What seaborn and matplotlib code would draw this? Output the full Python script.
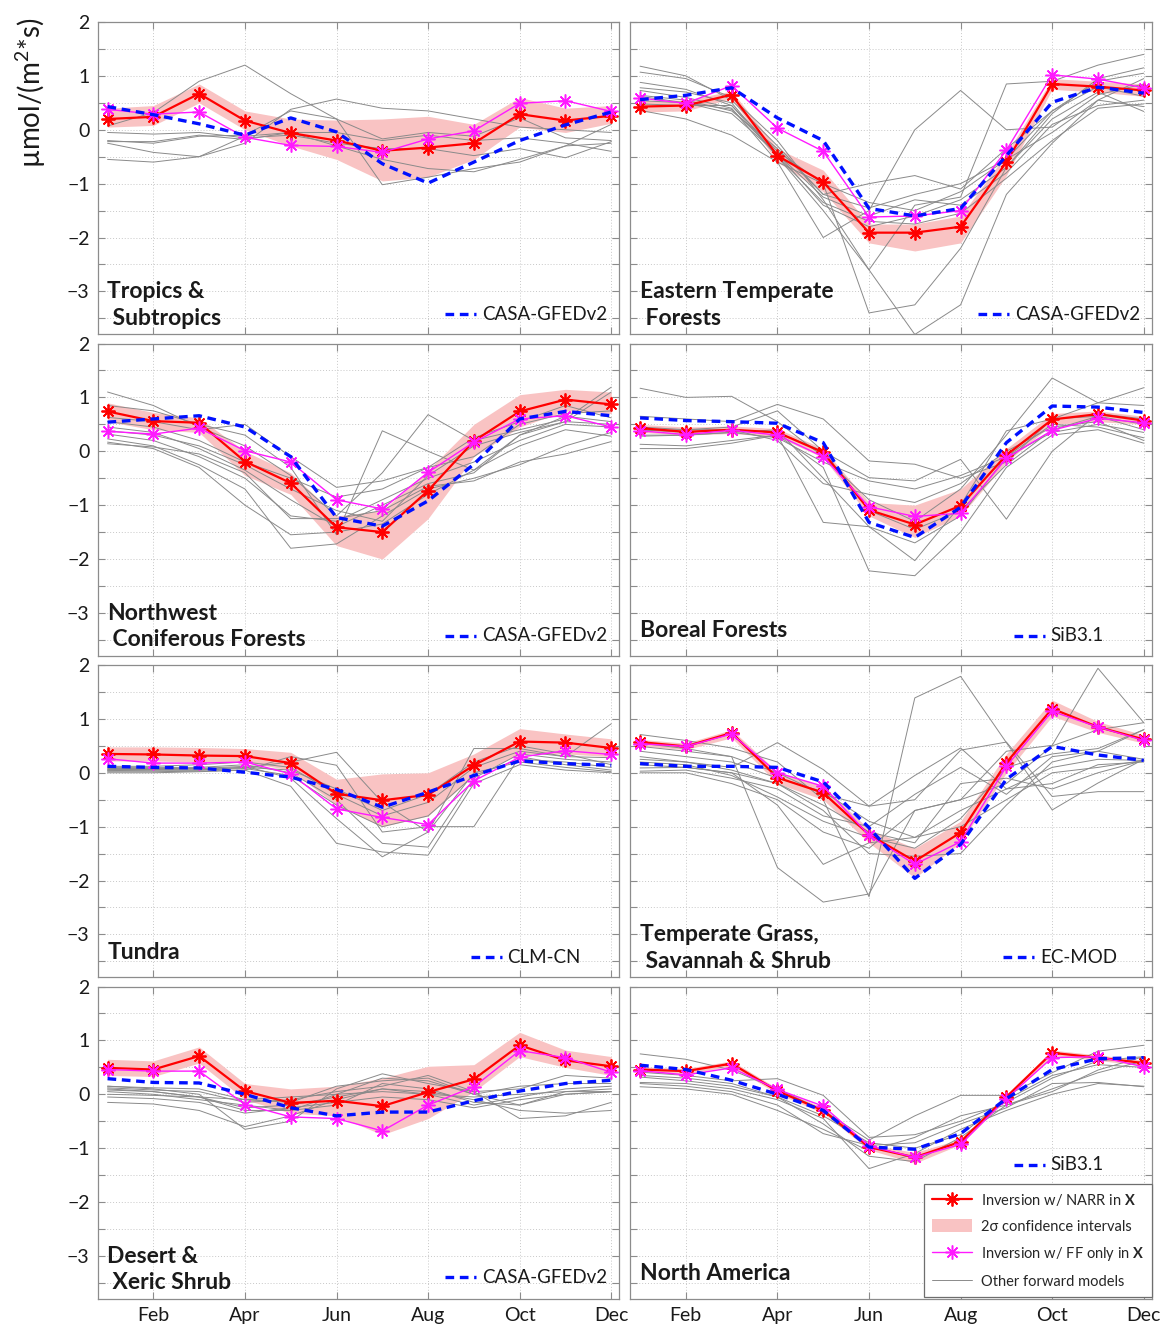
import numpy as np
import pandas as pd
import matplotlib
matplotlib.use("Agg")
import matplotlib.pyplot as plt
from matplotlib.lines import Line2D
from matplotlib.patches import Patch
import seaborn as sns

# ---------------------------------------------------------------- data
months = list(range(1, 13))
month_ticks = [2, 4, 6, 8, 10, 12]
month_labels = ["Feb", "Apr", "Jun", "Aug", "Oct", "Dec"]

# Tropics & Subtropics
tropics_narr = [0.20, 0.24, 0.67, 0.17, -0.06, -0.20, -0.39, -0.33, -0.25, 0.29, 0.17, 0.26]
tropics_ff = [0.38, 0.29, 0.33, -0.14, -0.29, -0.31, -0.42, -0.17, -0.02, 0.49, 0.54, 0.34]
tropics_ref = [0.43, 0.28, 0.11, -0.10, 0.22, -0.04, -0.63, -0.99, -0.60, -0.20, 0.09, 0.33]
tropics_hi = [0.40, 0.45, 0.85, 0.35, 0.20, 0.18, 0.20, 0.25, 0.10, 0.60, 0.40, 0.45]
tropics_lo = [0.05, 0.08, 0.50, 0.00, -0.30, -0.55, -0.95, -0.88, -0.55, 0.05, -0.05, 0.12]
tropics_others = [
    [0.07, 0.32, 0.90, 1.20, 0.67, 0.20, -1.02, -0.88, -0.72, -0.60, -0.30, 0.10],
    [-0.55, -0.60, -0.50, -0.25, 0.38, 0.57, 0.40, 0.35, 0.20, 0.05, 0.00, -0.05],
    [-0.20, -0.25, -0.12, -0.10, 0.35, 0.20, -0.17, -0.05, -0.12, 0.22, -0.15, -0.20],
    [-0.25, -0.42, -0.50, -0.12, -0.05, -0.30, -0.55, -0.72, -0.78, -0.55, -0.30, -0.25],
    [-0.05, -0.08, -0.05, -0.15, -0.10, -0.25, -0.35, -0.35, -0.48, -0.35, -0.52, -0.22],
    [-0.22, -0.22, -0.10, -0.18, -0.05, -0.05, -0.20, -0.10, -0.20, -0.15, -0.25, -0.40],
]

# Eastern Temperate Forests
eastern_narr = [0.43, 0.45, 0.65, -0.48, -0.97, -1.91, -1.91, -1.80, -0.60, 0.85, 0.80, 0.73]
eastern_ff = [0.59, 0.49, 0.82, 0.03, -0.40, -1.62, -1.60, -1.50, -0.38, 1.02, 0.94, 0.78]
eastern_ref = [0.56, 0.64, 0.78, 0.22, -0.20, -1.46, -1.60, -1.46, -0.48, 0.51, 0.79, 0.68]
eastern_hi = [0.55, 0.55, 0.72, -0.35, -0.75, -1.75, -1.75, -1.60, -0.45, 0.95, 0.90, 0.85]
eastern_lo = [0.33, 0.35, 0.58, -0.60, -1.15, -2.10, -2.25, -2.10, -0.85, 0.75, 0.70, 0.62]
eastern_others = [
    [1.18, 1.00, 0.55, -0.30, -1.20, -1.00, -0.85, -1.10, -0.35, 0.35, 0.90, 1.05],
    [1.07, 0.95, 0.60, -0.20, -1.30, -2.60, -1.40, -1.25, 0.85, 0.90, 1.20, 1.40],
    [0.88, 0.75, 0.45, -0.40, -1.00, -3.40, -3.25, -2.20, -0.70, 0.30, 0.95, 1.15],
    [0.78, 0.70, 0.50, -0.50, -1.50, -2.60, -3.80, -3.25, -1.20, -0.25, 0.55, 0.95],
    [0.73, 0.60, 0.40, -0.60, -2.00, -1.50, 0.00, 0.73, 0.00, 0.05, 0.65, 0.85],
    [0.64, 0.55, 0.35, -0.35, -1.20, -1.45, -1.20, -1.00, -0.55, 0.35, 0.80, 0.62],
    [0.54, 0.50, 0.30, -0.45, -1.25, -1.60, -1.30, -1.40, -0.80, 0.10, 0.45, 0.55],
    [0.48, 0.45, 0.45, -0.50, -1.35, -1.70, -1.75, -1.55, -0.90, -0.20, 0.40, 0.48],
    [0.36, 0.20, -0.10, -0.60, -1.00, -1.35, -1.50, -1.15, -0.55, -0.05, 0.55, 0.43],
    [0.62, 0.50, 0.38, -0.45, -1.40, -1.80, -1.60, -1.30, -0.70, 0.20, 0.70, 0.34],
]

# Northwest Coniferous Forests
northwest_narr = [0.74, 0.56, 0.53, -0.19, -0.59, -1.41, -1.50, -0.73, 0.19, 0.74, 0.96, 0.87]
northwest_ff = [0.37, 0.32, 0.43, 0.01, -0.20, -0.90, -1.07, -0.39, 0.17, 0.60, 0.66, 0.45]
northwest_ref = [0.54, 0.60, 0.66, 0.45, -0.10, -1.23, -1.39, -0.92, -0.24, 0.60, 0.74, 0.66]
northwest_hi = [0.90, 0.72, 0.62, 0.00, -0.40, -1.20, -1.10, -0.35, 0.50, 1.05, 1.15, 1.10]
northwest_lo = [0.55, 0.40, 0.35, -0.45, -0.80, -1.75, -2.00, -1.25, -0.10, 0.45, 0.75, 0.70]
northwest_others = [
    [1.10, 0.85, 0.45, 0.10, -0.45, -1.20, -0.40, 0.68, 0.20, 0.40, 0.60, 1.19],
    [0.85, 0.75, 0.50, 0.30, -0.30, -1.55, 0.38, 0.00, -0.35, 0.30, 0.55, 1.10],
    [0.63, 0.55, 0.40, 0.50, -0.10, -0.67, -0.55, -0.30, -0.10, 0.50, 0.70, 0.75],
    [0.45, 0.35, 0.05, -0.35, -0.90, -1.40, -1.00, -0.60, -0.40, 0.30, 0.65, 0.55],
    [0.32, 0.20, -0.10, -0.50, -1.20, -1.30, -0.90, -0.50, -0.20, 0.20, 0.50, 0.45],
    [0.23, 0.10, -0.25, -0.70, -1.80, -1.72, -1.20, -0.70, -0.50, -0.25, 0.10, 0.35],
    [0.17, 0.05, -0.30, -1.00, -1.55, -1.50, -1.35, -0.80, -0.35, 0.10, 0.40, 0.28],
    [0.14, 0.08, -0.05, -0.40, -1.25, -1.25, -1.10, -0.65, -0.55, -0.20, -0.05, 0.18],
    [0.38, 0.30, 0.10, -0.25, -0.70, -1.10, -1.30, -0.45, 0.10, 0.35, 0.55, 0.50],
    [0.55, 0.45, 0.20, -0.20, -0.50, -0.85, -0.70, -0.30, 0.25, 0.55, 0.85, 0.62],
]

# Boreal Forests
boreal_narr = [0.43, 0.36, 0.40, 0.35, -0.02, -1.09, -1.36, -1.01, -0.07, 0.59, 0.69, 0.57]
boreal_ff = [0.38, 0.31, 0.39, 0.30, -0.10, -1.03, -1.21, -1.15, -0.13, 0.39, 0.61, 0.53]
boreal_ref = [0.62, 0.57, 0.55, 0.52, 0.16, -1.32, -1.60, -1.04, 0.16, 0.84, 0.82, 0.72]
boreal_hi = [0.50, 0.45, 0.47, 0.42, 0.05, -0.95, -1.00, -0.70, 0.05, 0.70, 0.75, 0.65]
boreal_lo = [0.35, 0.30, 0.33, 0.27, -0.12, -1.20, -1.60, -1.20, -0.20, 0.50, 0.55, 0.50]
boreal_others = [
    [1.17, 1.00, 1.02, 0.55, -0.10, -0.90, -1.30, -0.70, 0.30, 1.36, 0.90, 1.18],
    [0.65, 0.60, 0.55, 0.87, 0.60, -0.18, -0.24, -0.50, -0.20, 0.60, 0.90, 0.85],
    [0.38, 0.40, 0.45, 0.75, 0.00, -0.49, -0.55, -0.15, -1.26, 0.00, 0.70, 0.60],
    [0.28, 0.30, 0.35, 0.40, -0.50, -1.40, -2.03, -1.00, 0.38, 0.60, 0.65, 0.40],
    [0.13, 0.10, 0.20, 0.30, -1.32, -1.40, -1.70, -1.20, -0.10, 0.50, 0.45, 0.25],
    [0.05, 0.05, 0.15, 0.30, -0.30, -2.22, -2.31, -1.50, -0.30, 0.30, 0.40, 0.15],
    [0.40, 0.35, 0.40, 0.20, -0.60, -0.80, -0.95, -0.60, 0.00, 0.45, 0.55, 0.20],
    [0.30, 0.30, 0.35, 0.25, -0.20, -0.55, -0.70, -0.45, -0.10, 0.35, 0.50, 0.35],
    [0.45, 0.40, 0.40, 0.35, 0.00, -1.10, -1.45, -1.10, -0.25, 0.40, 0.65, 0.50],
]

# Tundra
tundra_narr = [0.35, 0.34, 0.32, 0.31, 0.18, -0.39, -0.51, -0.41, 0.14, 0.58, 0.56, 0.46]
tundra_ff = [0.26, 0.18, 0.18, 0.20, -0.02, -0.67, -0.83, -0.96, -0.15, 0.29, 0.41, 0.34]
tundra_ref = [0.12, 0.10, 0.09, 0.01, -0.08, -0.31, -0.64, -0.36, -0.05, 0.22, 0.17, 0.14]
tundra_hi = [0.48, 0.48, 0.47, 0.45, 0.38, -0.12, -0.02, 0.00, 0.35, 0.82, 0.72, 0.63]
tundra_lo = [0.22, 0.22, 0.20, 0.20, 0.05, -0.60, -1.00, -0.80, -0.05, 0.35, 0.35, 0.30]
tundra_others = [
    [0.05, 0.05, 0.05, 0.10, 0.20, 0.38, -0.55, -1.10, 0.45, 0.45, 0.30, 0.91],
    [0.02, 0.02, 0.03, 0.05, 0.30, 0.14, -1.10, -1.00, -1.00, 0.30, 0.15, 0.05],
    [0.08, 0.08, 0.08, 0.12, -0.10, -0.85, -1.56, -1.10, 0.00, 0.20, 0.10, 0.02],
    [0.00, 0.00, 0.02, 0.05, -0.25, -1.31, -1.47, -1.53, -0.20, 0.15, 0.05, 0.00],
    [0.10, 0.10, 0.10, 0.15, 0.00, -0.50, -1.31, -1.38, -0.10, 0.35, 0.25, 0.20],
    [0.12, 0.12, 0.15, 0.20, 0.10, -0.40, -0.80, -0.55, 0.10, 0.40, 0.30, 0.28],
    [0.04, 0.05, 0.05, 0.08, -0.05, -0.60, -1.00, -0.80, -0.05, 0.25, 0.20, 0.10],
    [0.06, 0.06, 0.07, 0.10, 0.05, -0.30, -0.70, -0.40, 0.20, 0.50, 0.35, 0.15],
]

# Temperate Grass, Savannah & Shrub
grass_narr = [0.57, 0.49, 0.74, -0.09, -0.37, -1.15, -1.64, -1.11, 0.19, 1.19, 0.85, 0.62]
grass_ff = [0.54, 0.49, 0.72, 0.00, -0.25, -1.16, -1.70, -1.28, 0.12, 1.14, 0.85, 0.60]
grass_ref = [0.17, 0.12, 0.12, 0.10, -0.17, -1.02, -1.96, -1.33, -0.12, 0.49, 0.33, 0.23]
grass_hi = [0.62, 0.55, 0.80, 0.02, -0.25, -1.05, -1.40, -0.90, 0.35, 1.35, 0.95, 0.70]
grass_lo = [0.50, 0.43, 0.65, -0.20, -0.50, -1.30, -1.95, -1.30, 0.00, 1.05, 0.75, 0.55]
grass_others = [
    [0.71, 0.60, 0.46, 0.20, -0.50, -2.30, 1.39, 1.79, 0.56, -0.69, -0.19, 0.25],
    [0.49, 0.40, 0.30, -1.76, -2.40, -2.25, -0.70, -0.50, 0.40, 0.51, 1.94, 0.93],
    [0.25, 0.20, 0.10, 0.56, 0.06, -0.62, -0.50, 0.42, 0.57, -0.44, -0.35, -0.35],
    [0.09, 0.10, 0.00, -0.20, -0.60, -1.10, -1.30, -0.20, -0.10, -0.30, 0.00, 0.23],
    [0.03, 0.05, -0.10, -0.30, -0.80, -1.00, -0.40, 0.10, -0.40, 0.30, 0.40, 0.25],
    [0.00, 0.00, -0.20, -0.50, -1.10, -1.40, -0.70, -0.50, -0.20, 0.50, 0.80, 0.93],
    [0.30, 0.20, 0.05, -0.20, -0.70, -1.50, -1.55, -1.50, -0.60, 0.20, 0.40, 0.80],
    [0.55, 0.45, 0.30, 0.00, -0.40, -0.62, -0.05, 0.46, -0.30, -0.20, 0.15, 0.20],
    [0.15, 0.10, 0.00, -0.60, -1.70, -1.30, -1.20, -1.00, -0.50, 0.00, 0.10, 0.23],
    [0.40, 0.30, 0.20, -0.10, -0.35, -0.90, -1.20, -0.70, -0.30, 0.10, 0.25, 0.23],
    [0.20, 0.15, -0.05, -0.45, -0.90, -1.20, -1.40, -0.85, 0.10, 0.35, 0.45, 0.80],
]

# Desert & Xeric Shrub
desert_narr = [0.49, 0.46, 0.71, 0.06, -0.16, -0.12, -0.22, 0.04, 0.28, 0.91, 0.63, 0.52]
desert_ff = [0.46, 0.43, 0.43, -0.19, -0.42, -0.45, -0.68, -0.20, 0.14, 0.81, 0.68, 0.41]
desert_ref = [0.29, 0.22, 0.21, 0.00, -0.25, -0.40, -0.33, -0.33, -0.12, 0.06, 0.20, 0.26]
desert_hi = [0.65, 0.62, 0.88, 0.20, 0.10, 0.15, 0.30, 0.52, 0.55, 1.15, 0.82, 0.70]
desert_lo = [0.35, 0.33, 0.58, -0.10, -0.35, -0.40, -0.75, -0.45, 0.05, 0.70, 0.50, 0.35]
desert_others = [
    [0.15, 0.10, 0.00, -0.65, -0.50, 0.10, 0.38, 0.20, 0.05, -0.45, -0.40, -0.15],
    [0.10, 0.05, -0.05, -0.30, -0.30, 0.00, 0.30, 0.25, 0.00, -0.20, 0.05, 0.10],
    [-0.15, -0.18, -0.30, -0.60, -0.40, -0.10, 0.10, 0.05, -0.10, -0.30, -0.35, -0.30],
    [0.05, 0.00, -0.10, -0.20, -0.30, -0.20, 0.20, 0.10, -0.15, -0.20, 0.00, 0.05],
    [0.12, 0.08, 0.05, -0.15, -0.10, 0.05, 0.15, 0.35, 0.05, 0.10, 0.35, 0.30],
    [0.00, -0.02, -0.05, -0.10, -0.05, 0.00, 0.05, 0.00, -0.05, 0.00, 0.05, 0.05],
    [0.08, 0.05, -0.05, -0.25, -0.20, -0.05, 0.10, 0.00, -0.20, -0.05, 0.10, 0.15],
    [-0.05, -0.08, -0.15, -0.35, -0.25, -0.15, -0.05, -0.10, -0.25, -0.10, 0.00, 0.05],
    [0.15, 0.12, 0.10, -0.10, -0.15, 0.15, 0.25, 0.30, 0.00, 0.15, 0.20, 0.20],
]

# North America
northam_narr = [0.46, 0.43, 0.57, 0.06, -0.30, -0.98, -1.17, -0.88, -0.05, 0.77, 0.68, 0.58]
northam_ff = [0.44, 0.36, 0.49, 0.09, -0.22, -0.96, -1.17, -0.93, -0.08, 0.68, 0.70, 0.51]
northam_ref = [0.54, 0.46, 0.26, 0.00, -0.30, -0.98, -1.02, -0.73, -0.08, 0.46, 0.66, 0.68]
northam_hi = [0.51, 0.48, 0.62, 0.11, -0.25, -0.93, -1.08, -0.83, 0.00, 0.82, 0.73, 0.63]
northam_lo = [0.41, 0.38, 0.52, 0.01, -0.35, -1.03, -1.28, -0.93, -0.10, 0.72, 0.63, 0.53]
northam_others = [
    [0.75, 0.65, 0.45, 0.10, -0.30, -0.85, -0.40, -0.02, -0.02, 0.40, 0.80, 0.91],
    [0.41, 0.35, 0.25, 0.29, -0.02, -0.80, -0.75, -0.50, -0.15, 0.30, 0.62, 0.70],
    [0.32, 0.25, 0.15, -0.05, -0.55, -1.15, -1.25, -0.80, -0.20, 0.10, 0.40, 0.62],
    [0.22, 0.20, 0.10, -0.10, -0.45, -1.38, -1.10, -0.65, -0.30, 0.00, 0.20, 0.15],
    [0.20, 0.15, 0.05, -0.20, -0.73, -0.95, -0.90, -0.55, -0.25, 0.20, 0.22, 0.14],
    [0.14, 0.10, 0.00, -0.30, -0.65, -1.05, -0.80, -0.40, -0.20, 0.05, 0.45, 0.70],
    [0.35, 0.30, 0.20, -0.05, -0.40, -0.90, -1.00, -0.75, -0.10, 0.35, 0.55, 0.50],
]

region_titles = [
    "Tropics &\n Subtropics", "Eastern Temperate\n Forests",
    "Northwest\n Coniferous Forests", "Boreal Forests",
    "Tundra", "Temperate Grass,\n Savannah & Shrub",
    "Desert &\n Xeric Shrub", "North America",
]
reference_models = ["CASA-GFEDv2", "CASA-GFEDv2", "CASA-GFEDv2", "SiB3.1",
                    "CLM-CN", "EC-MOD", "CASA-GFEDv2", "SiB3.1"]

# ---------------------------------------------------------------- style
sns.set_theme(style="white")
plt.rcParams["font.family"] = ["Lato", "DejaVu Sans"]
plt.rcParams["mathtext.fontset"] = "custom"
plt.rcParams["mathtext.rm"] = "Lato"
plt.rcParams["mathtext.bf"] = "Lato:bold"
plt.rcParams["axes.unicode_minus"] = True

RED = "#ff0000"
MAGENTA = "#ff1aff"
BLUE = "#0010ff"
BAND = "#f9c3c3"
GRAY = "#8a8a8a"
SPINE = "#8c8c8c"
ASTERISK = (8, 2, 0)
DASH = (0, (2.6, 1.7))

panels = [
    (tropics_narr, tropics_ff, tropics_ref, tropics_lo, tropics_hi, tropics_others),
    (eastern_narr, eastern_ff, eastern_ref, eastern_lo, eastern_hi, eastern_others),
    (northwest_narr, northwest_ff, northwest_ref, northwest_lo, northwest_hi, northwest_others),
    (boreal_narr, boreal_ff, boreal_ref, boreal_lo, boreal_hi, boreal_others),
    (tundra_narr, tundra_ff, tundra_ref, tundra_lo, tundra_hi, tundra_others),
    (grass_narr, grass_ff, grass_ref, grass_lo, grass_hi, grass_others),
    (desert_narr, desert_ff, desert_ref, desert_lo, desert_hi, desert_others),
    (northam_narr, northam_ff, northam_ref, northam_lo, northam_hi, northam_others),
]

# legend-key placement for the reference model (dash start, dash end, text x, y)
key_pos = [
    (0.665, 0.724, 0.736, 0.064), (0.666, 0.726, 0.737, 0.064),
    (0.665, 0.724, 0.736, 0.064), (0.735, 0.795, 0.806, 0.064),
    (0.715, 0.774, 0.785, 0.064), (0.714, 0.774, 0.785, 0.064),
    (0.665, 0.724, 0.736, 0.070), (0.735, 0.795, 0.806, 0.430),
]

fig, axes = plt.subplots(
    4, 2, figsize=(11.66, 13.27), dpi=100,
    gridspec_kw=dict(left=0.084, right=0.988, top=0.9834, bottom=0.0211,
                     wspace=0.021, hspace=0.029),
)

yticks = np.arange(-3.5, 2.01, 0.5)
ylabels = [f"{int(v)}" if float(v).is_integer() else "" for v in yticks]
ylabels = [s.replace("-", "\u2212") for s in ylabels]

for idx, ax in enumerate(axes.flat):
    narr, ff, ref, lo, hi, others = panels[idx]
    row, col = divmod(idx, 2)

    # uncertainty band
    ax.fill_between(months, lo, hi, color=BAND, lw=0, zorder=1)

    # other forward models
    df_other = pd.DataFrame(
        [(m, v, k) for k, series in enumerate(others) for m, v in zip(months, series)],
        columns=["month", "flux", "model"],
    )
    sns.lineplot(data=df_other, x="month", y="flux", units="model", estimator=None,
                 color=GRAY, lw=0.7, ax=ax, zorder=2, legend=False)

    df_main = pd.DataFrame({"month": months, "narr": narr, "ff": ff, "ref": ref})
    sns.lineplot(data=df_main, x="month", y="narr", color=RED, lw=1.6,
                 marker=ASTERISK, markersize=10, markeredgewidth=1.3,
                 markeredgecolor=RED, ax=ax, zorder=4)
    sns.lineplot(data=df_main, x="month", y="ff", color=MAGENTA, lw=1.0,
                 marker=ASTERISK, markersize=10, markeredgewidth=1.1,
                 markeredgecolor=MAGENTA, ax=ax, zorder=5)
    sns.lineplot(data=df_main, x="month", y="ref", color=BLUE, lw=2.4,
                 linestyle=DASH, ax=ax, zorder=6)

    # axes cosmetics
    ax.set_xlim(0.79, 12.18)
    ax.set_ylim(-3.8, 2.0)
    ax.set_xticks(month_ticks)
    ax.set_yticks(yticks)
    ax.set_xlabel("")
    ax.set_ylabel("")
    ax.grid(True, which="major", linestyle=(0, (1, 2)), color="#c8c8c8", lw=0.7)
    ax.tick_params(direction="in", length=5, width=0.8, color=SPINE,
                   top=True, right=True, bottom=True, left=True,
                   labelsize=14, labelcolor="#1a1a1a", pad=6)
    if col == 0:
        ax.set_yticklabels(ylabels)
    else:
        ax.set_yticklabels([])
    if row == 3:
        ax.set_xticklabels(month_labels)
    else:
        ax.set_xticklabels([])
    for sp in ax.spines.values():
        sp.set_color(SPINE)
        sp.set_linewidth(0.9)

    # region name
    title = region_titles[idx]
    ty = 0.018 if "\n" in title else 0.047
    ax.text(0.018, ty, title, transform=ax.transAxes, ha="left", va="bottom",
            fontsize=16.5, fontweight="bold", color="#1a1a1a", linespacing=1.32,
            zorder=8)

    # reference model key
    x0, x1, tx, ky = key_pos[idx]
    ax.plot([x0, x1], [ky, ky], transform=ax.transAxes, color=BLUE, lw=2.4,
            linestyle=DASH, zorder=8)
    ax.text(tx, ky, reference_models[idx], transform=ax.transAxes, ha="left",
            va="center", fontsize=13.5, color="#1a1a1a", zorder=8)

# legend in the North America panel
ax_na = axes[3, 1]
handles = [
    Line2D([], [], color=RED, lw=1.6, marker=ASTERISK, markersize=10,
           markeredgewidth=1.3, markeredgecolor=RED),
    Patch(facecolor=BAND, edgecolor="none"),
    Line2D([], [], color=MAGENTA, lw=1.0, marker=ASTERISK, markersize=10,
           markeredgewidth=1.1, markeredgecolor=MAGENTA),
    Line2D([], [], color=GRAY, lw=0.7),
]
labels = [
    r"Inversion w/ NARR in $\mathbf{X}$",
    "2\u03c3 confidence intervals",
    r"Inversion w/ FF only in $\mathbf{X}$",
    "Other forward models",
]
leg = ax_na.legend(handles, labels, loc="lower right", bbox_to_anchor=(1.0, 0.006),
                   frameon=True, fancybox=False, framealpha=1, edgecolor="#6e6e6e",
                   fontsize=10.5, handlelength=2.7, handleheight=1.0,
                   borderpad=0.55, labelspacing=0.78, handletextpad=0.6,
                   borderaxespad=0.0)
leg.get_frame().set_linewidth(0.9)
leg.set_zorder(10)

fig.text(0.026, 0.93, "\u00b5mol/(m$^2$*s)", rotation=90, ha="center", va="center",
         fontsize=20, color="#1a1a1a")

fig.savefig("out.png", dpi=100)
